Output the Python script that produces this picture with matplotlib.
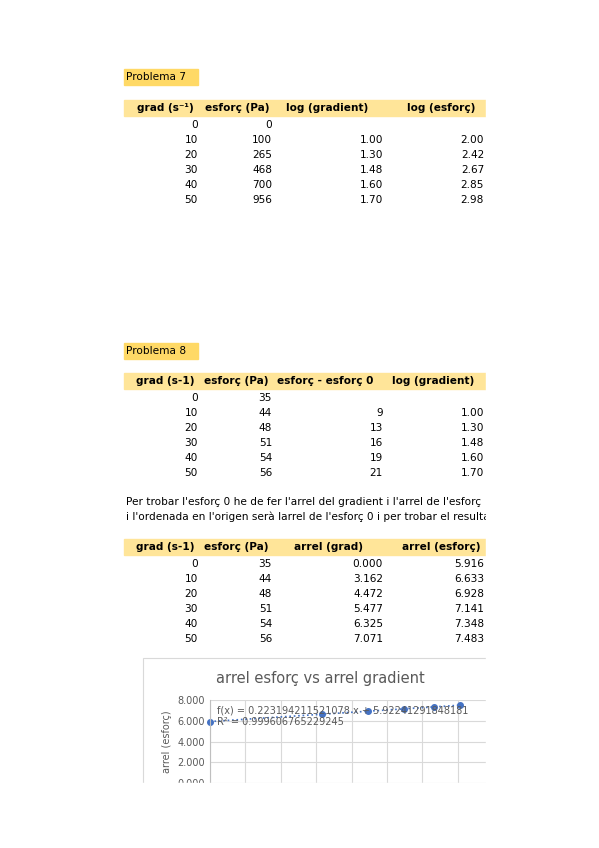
import matplotlib
matplotlib.use("Agg")
import matplotlib.pyplot as plt
from matplotlib.patches import Rectangle
import numpy as np

W, H = 599, 848
grad = [0, 10, 20, 30, 40, 50]
esf7 = [0, 100, 265, 468, 700, 956]
loggrad = ["", "1.00", "1.30", "1.48", "1.60", "1.70"]
logesf = ["", "2.00", "2.42", "2.67", "2.85", "2.98"]
esf8 = [35, 44, 48, 51, 54, 56]
diff8 = ["", "9", "13", "16", "19", "21"]
arrel_grad = [0.000, 3.162, 4.472, 5.477, 6.325, 7.071]
arrel_esf = [5.916, 6.633, 6.928, 7.141, 7.348, 7.483]
slope, intercept = 0.223194211521078, 5.92241291848181
r2 = 0.999606765229245

fig = plt.figure(figsize=(W/100, H/100), dpi=100)
fs = 7.6

def T(x, y, s, ha="left", **kw):
    fig.text(x/W, 1-y/H, s, ha=ha, va="center", fontsize=kw.pop("size", fs), **kw)

def band(x0, x1, y0, y1, c):
    fig.patches.append(Rectangle((x0/W, 1-y1/H), (x1-x0)/W, (y1-y0)/H,
                                 transform=fig.transFigure, color=c, zorder=0))

cols = [198, 272, 383, 484]
def table(yh, headers, hx, rows):
    band(124, 486, yh-8, yh+8, "#ffe599")
    for h, x in zip(headers, hx):
        T(x, yh, h, ha="center", weight="bold")
    for i, r in enumerate(rows):
        for v, x in zip(r, cols):
            T(x, yh+17+15*i, str(v), ha="right")

band(124, 198, 69, 85, "#ffd966")
T(126, 77, "Problema 7")
table(108, ["grad (s⁻¹)", "esforç (Pa)", "log (gradient)", "log (esforç)"], [165, 237, 327, 441],
      list(zip(grad, esf7, loggrad, logesf)))

band(124, 198, 343, 359, "#ffd966")
T(126, 351, "Problema 8")
table(381, ["grad (s-1)", "esforç (Pa)", "esforç - esforç 0", "log (gradient)"], [165, 236, 325, 433],
      list(zip(grad, esf8, diff8, loggrad)))

T(126, 502, "Per trobar l'esforç 0 he de fer l'arrel del gradient i l'arrel de l'esforç")
T(126, 517, "i l'ordenada en l'origen serà larrel de l'esforç 0 i per trobar el resultat")

table(547, ["grad (s-1)", "esforç (Pa)", "arrel (grad)", "arrel (esforç)"], [165, 236, 328, 441],
      list(zip(grad, esf8, [f"{v:.3f}" for v in arrel_grad], [f"{v:.3f}" for v in arrel_esf])))

# chart
fig.patches.append(Rectangle((143/W, 0), (500-143)/W, (848-658)/H, transform=fig.transFigure,
                             fill=False, ec="#d9d9d9", lw=0.8, zorder=1))
T(320, 679, "arrel esforç vs arrel gradient", ha="center", size=10.5, color="#595959")
ax = fig.add_axes([210/W, 1-783/H, (540-210)/W, (783-700)/H])
xmax = (540-210)/35.4
ax.set_xlim(0, xmax); ax.set_ylim(0, 8)
ax.set_xticks(np.arange(0, 9, 1)); ax.set_yticks([0, 2, 4, 6, 8])
ax.set_yticklabels(["0.000", "2.000", "4.000", "6.000", "8.000"], fontsize=7, color="#595959")
ax.set_xticklabels([])
ax.tick_params(length=0)
ax.grid(True, color="#d9d9d9", lw=0.8)
for s in ax.spines.values(): s.set_visible(False)
ax.spines["left"].set_visible(True); ax.spines["left"].set_color("#bfbfbf")
xs = np.array([0, arrel_grad[-1]])
ax.plot(xs, slope*xs+intercept, ls=":", color="#4472c4", lw=1.2)
ax.plot(arrel_grad, arrel_esf, "o", color="#4472c4", ms=4, clip_on=False)
ax.set_ylabel("arrel (esforç)", fontsize=7, color="#595959", labelpad=4)
ax.text(0.2, 6.95, f"f(x) = {slope} x + {intercept}", fontsize=7, color="#595959", va="center")
ax.text(0.2, 5.85, f"R² = {r2}", fontsize=7, color="#595959", va="center")

# clipping covers
fig.patches.append(Rectangle((486/W, 0), 1, 1, transform=fig.transFigure, color="white", zorder=20))
fig.patches.append(Rectangle((0, 0), 1, (848-783)/H, transform=fig.transFigure, color="white", zorder=20))
fig.savefig("out.png", dpi=100)
